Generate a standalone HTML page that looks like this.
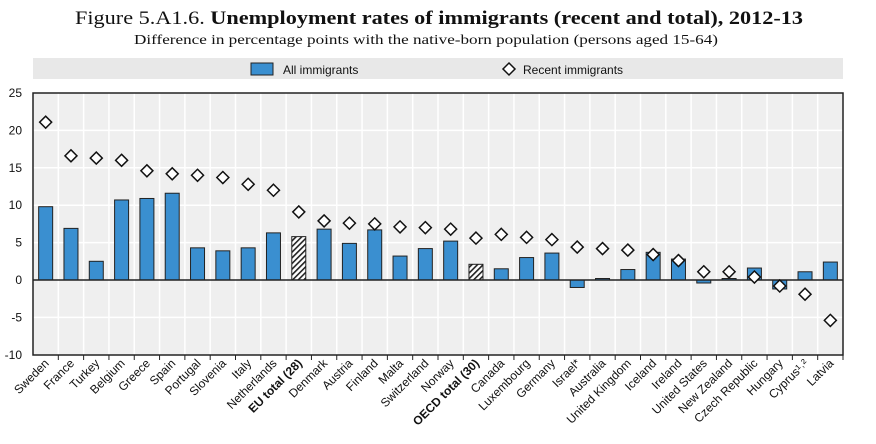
<!DOCTYPE html>
<html><head><meta charset="utf-8"><style>
body{margin:0;background:#fff;width:876px;height:439px;overflow:hidden}
</style></head><body>
<svg width="876" height="439" xmlns="http://www.w3.org/2000/svg" font-family="Liberation Sans, sans-serif">
<defs>
<pattern id="h" width="4" height="4" patternUnits="userSpaceOnUse" patternTransform="rotate(45)">
<rect width="4" height="4" fill="#fff"/><rect width="1.6" height="4" fill="#222"/></pattern>
</defs>
<text x="75" y="24" textLength="728" lengthAdjust="spacingAndGlyphs" font-family="Liberation Serif, serif" font-size="19" fill="#111">Figure 5.A1.6.  <tspan font-weight="bold">Unemployment rates of immigrants (recent and total), 2012-13</tspan></text>
<text x="134" y="44" textLength="584" lengthAdjust="spacingAndGlyphs" font-family="Liberation Serif, serif" font-size="13.5" fill="#111">Difference in percentage points with the native-born population (persons aged 15-64)</text>
<rect x="33" y="58" width="810" height="21" fill="#e8e8e8"/>
<rect x="251" y="63" width="22" height="12" fill="#3a8fd0" stroke="#222"/>
<text x="283" y="74" font-size="12" fill="#111">All immigrants</text>
<path d="M509 63 L515 69 L509 75 L503 69 Z" fill="#fff" stroke="#111" stroke-width="1.5"/>
<text x="523" y="74" font-size="12" fill="#111">Recent immigrants</text>
<rect x="33" y="93" width="810" height="262" fill="#efefef"/>
<g id="g"></g>
<rect x="33" y="93" width="810" height="262" fill="none" stroke="#222" stroke-width="1.5"/>
<g id="yl" font-size="12" fill="#111" text-anchor="end"></g>
</svg>
<script>
const d=[["Sweden",9.8,21.1],["France",6.9,16.6],["Turkey",2.5,16.3],["Belgium",10.7,16.0],["Greece",10.9,14.6],["Spain",11.6,14.2],["Portugal",4.3,14.0],["Slovenia",3.9,13.7],["Italy",4.3,12.8],["Netherlands",6.3,12.0],["EU total (28)",5.8,9.1,1],["Denmark",6.8,7.9],["Austria",4.9,7.6],["Finland",6.7,7.5],["Malta",3.2,7.1],["Switzerland",4.2,7.0],["Norway",5.2,6.8],["OECD total (30)",2.1,5.6,1],["Canada",1.5,6.1],["Luxembourg",3.0,5.7],["Germany",3.6,5.4],["Israel*",-1.0,4.4],["Australia",0.2,4.2],["United Kingdom",1.4,4.0],["Iceland",3.7,3.4],["Ireland",2.8,2.6],["United States",-0.4,1.1],["New Zealand",0.2,1.1],["Czech Republic",1.6,0.4],["Hungary",-1.2,-0.8],["Cyprus¹˒²",1.1,-1.9],["Latvia",2.4,-5.4]];
const Y=v=>280-v*7.48,W=810/32;let s="";
for(let v=-10;v<=25;v+=5){if(v!=0&&v!=25&&v!=-10)s+=`<line x1="33" x2="843" y1="${Y(v)}" y2="${Y(v)}" stroke="#fff" stroke-width="1.5"/>`;}
for(let i=1;i<32;i++){const x=33+i*W;s+=`<line x1="${x}" x2="${x}" y1="93" y2="355" stroke="#fff" stroke-width="1.5"/>`;}
let s2="";
d.forEach((r,i)=>{const c=33+(i+.5)*W,y=Y(r[1]),y0=Y(0);
s+=`<rect x="${c-7}" y="${Math.min(y,y0)}" width="14" height="${Math.abs(y-y0)}" fill="${r[3]?'url(#h)':'#3a8fd0'}" stroke="#222" stroke-width="1"/>`;
const x=33+(i+1)*W;s2+=`<line x1="${x}" x2="${x}" y1="355" y2="360" stroke="#222"/>`;
s2+=`<text transform="translate(${c+4},364) rotate(-45)" text-anchor="end" font-size="12" fill="#111" ${r[3]?'font-weight="bold"':''}>${r[0]}</text>`;});
s+=`<line x1="33" x2="843" y1="280" y2="280" stroke="#222" stroke-width="1.5"/>`;
d.forEach((r,i)=>{const c=33+(i+.5)*W,y=Y(r[2]);s+=`<path d="M${c} ${y-6} L${c+6} ${y} L${c} ${y+6} L${c-6} ${y} Z" fill="#fff" stroke="#111" stroke-width="1.5"/>`;});
document.getElementById("g").innerHTML=s+s2;
let t="";for(let v=-10;v<=25;v+=5)t+=`<text x="22" y="${Y(v)+4}">${v}</text>`;
document.getElementById("yl").innerHTML=t;
</script>
</body></html>
